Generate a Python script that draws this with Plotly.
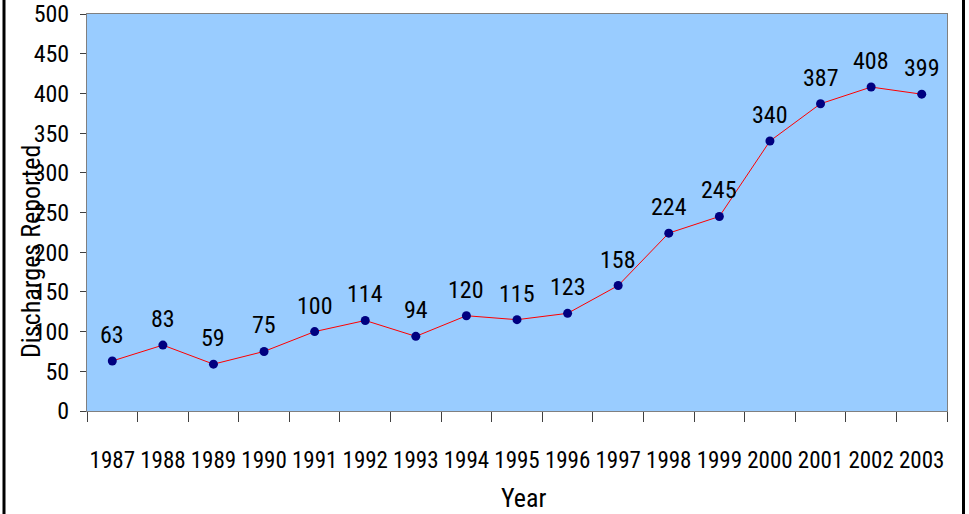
import plotly.graph_objects as go

# Annual discharges reported, 1987-2003
years = ["1987", "1988", "1989", "1990", "1991", "1992", "1993", "1994", "1995",
         "1996", "1997", "1998", "1999", "2000", "2001", "2002", "2003"]
discharges = [63, 83, 59, 75, 100, 114, 94, 120, 115, 123, 158, 224, 245, 340, 387, 408, 399]
y_ticks = [0, 50, 100, 150, 200, 250, 300, 350, 400, 450, 500]

FONT = "Roboto Condensed, DejaVu Sans Condensed, sans-serif"
W, H = 969, 514
L, R, T, B = 87, 22, 14, 103
pw, ph = W - L - R, H - T - B


def px_x(x):
    return (x - L) / pw


def px_y(y):
    return (H - B - y) / ph


fig = go.Figure()
fig.add_trace(go.Scatter(
    x=years, y=discharges, mode="lines+markers",
    line=dict(color="#FF0000", width=1),
    marker=dict(color="#000080", size=9),
    hoverinfo="x+y", showlegend=False,
))

annotations = []
# value labels above each point (category index positions)
for i, v in enumerate(discharges):
    annotations.append(dict(
        x=i, y=v, xref="x", yref="y", text=str(v), showarrow=False,
        yanchor="middle", yshift=26, font=dict(family=FONT, size=24, color="black"),
    ))

annotations += [
    dict(text="Year", x=px_x(523), y=px_y(498), xref="paper", yref="paper",
         showarrow=False, xanchor="center", yanchor="middle",
         font=dict(family=FONT, size=26, color="black")),
    dict(text="Discharges Reported", x=px_x(31), y=px_y(252), xref="paper", yref="paper",
         showarrow=False, xanchor="center", yanchor="middle", textangle=-90,
         font=dict(family=FONT, size=26, color="black")),
    # subtitle sitting just above the top edge of the page
    dict(text="(Average Daily by Year of All Discharges)",
         x=px_x(499), y=px_y(-1), xref="paper", yref="paper",
         showarrow=False, xanchor="center", yanchor="bottom",
         font=dict(family=FONT, size=26, color="black")),
]

shapes = [
    # outer black frame (left and right edges)
    dict(type="line", xref="paper", yref="paper", x0=px_x(4), x1=px_x(4),
         y0=-1, y1=2, line=dict(color="black", width=3)),
    dict(type="line", xref="paper", yref="paper", x0=px_x(963.5), x1=px_x(963.5),
         y0=-1, y1=2, line=dict(color="black", width=3)),
]

fig.update_layout(
    width=W, height=H,
    margin=dict(l=L, r=R, t=T, b=B, pad=0, autoexpand=False),
    paper_bgcolor="white",
    plot_bgcolor="#99CCFF",
    font=dict(family=FONT, size=24, color="black"),
    annotations=annotations,
    shapes=shapes,
    xaxis=dict(
        type="category", tickson="boundaries", ticks="outside", ticklen=10,
        tickcolor="#404040", tickwidth=1, showline=True, linecolor="#808080",
        linewidth=1, mirror=True, showgrid=False, zeroline=False,
        tickfont=dict(family=FONT, size=23, color="black"), tickangle=0,
        ticklabelstandoff=28, range=[-0.5, 16.5], automargin=False,
    ),
    yaxis=dict(
        range=[0, 500], tickvals=y_ticks, ticks="outside", ticklen=6,
        tickcolor="#404040", tickwidth=1, showline=True, linecolor="#808080",
        linewidth=1, mirror=True, showgrid=False, zeroline=False,
        tickfont=dict(family=FONT, size=24, color="black"),
        ticklabelstandoff=6, ticklabeloverflow="allow", automargin=False,
    ),
)

fig.write_html("out.html")
